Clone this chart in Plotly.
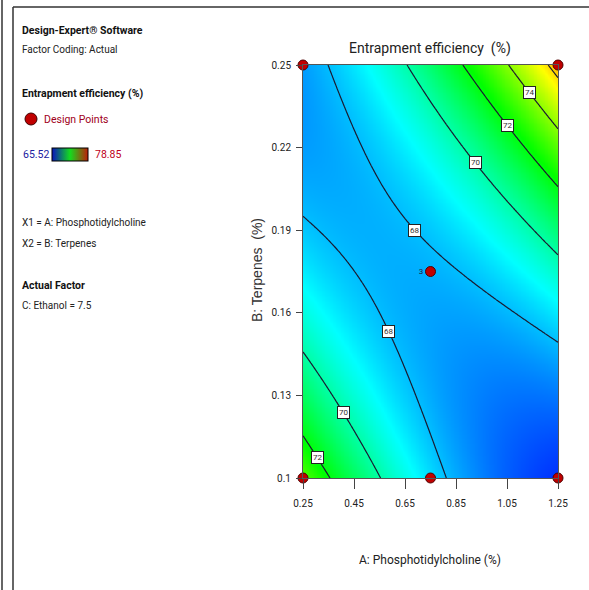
import numpy as np
import plotly.graph_objects as go

# ---- Data -------------------------------------------------------------
# Factor ranges (actual units)
A_range = [0.25, 1.25]      # A: Phosphotidylcholine (%)
B_range = [0.10, 0.25]      # B: Terpenes (%)
ethanol_level = 7.5         # C: Ethanol held at its centre level

# Quadratic model for entrapment efficiency in coded factors (C = 0)
model_terms = ["Intercept", "A", "B", "AB", "A^2", "B^2"]
model_coefs = [67.83, 0.47, 1.18, 4.01, 1.27, 1.77]

# Response range used for the colour scale
resp_min, resp_max = 65.52, 78.85

# Contour levels that are drawn and labelled
contour_levels = [68, 70, 72, 74, 76]

# Design points (runs) in this slice
design_A = [0.25, 1.25, 0.75, 0.25, 0.75, 1.25]
design_B = [0.25, 0.25, 0.175, 0.10, 0.10, 0.10]
design_reps = [1, 1, 3, 1, 1, 1]

# Tick labels
x_ticks = [0.25, 0.45, 0.65, 0.85, 1.05, 1.25]
x_ticktext = ["0.25", "0.45", "0.65", "0.85", "1.05", "1.25"]
y_ticks = [0.10, 0.13, 0.16, 0.19, 0.22, 0.25]
y_ticktext = ["0.1", "0.13", "0.16", "0.19", "0.22", "0.25"]

# ---- Layout helpers (pixel geometry of the 589 x 590 page) -------------
W, H = 589, 590
PX0, PX1 = 303, 558       # plot area left/right
PY0, PY1 = 65, 478        # plot area top/bottom


def px(x):
    return x / W


def py(y):
    return 1 - y / H


def to_coded(A, B):
    a = (np.asarray(A) - 0.75) / 0.5
    b = (np.asarray(B) - 0.175) / 0.075
    return a, b


def response(A, B):
    c0, c1, c2, c12, c11, c22 = model_coefs
    a, b = to_coded(A, B)
    return c0 + c1 * a + c2 * b + c12 * a * b + c11 * a ** 2 + c22 * b ** 2


def level_B_at(A, level, branch):
    """B value where the model equals `level` at a given A (upper/lower root)."""
    c0, c1, c2, c12, c11, c22 = model_coefs
    a = (A - 0.75) / 0.5
    qa = c22
    qb = c2 + c12 * a
    qc = c0 + c1 * a + c11 * a ** 2 - level
    disc = np.sqrt(qb ** 2 - 4 * qa * qc)
    b = (-qb + branch * disc) / (2 * qa)
    return 0.175 + 0.075 * b


# Evaluate the fitted surface on a grid
A_vals = np.linspace(A_range[0], A_range[1], 161)
B_vals = np.linspace(B_range[0], B_range[1], 161)
AA, BB = np.meshgrid(A_vals, B_vals)
Z = response(AA, BB)

colorscale = [
    [0.00, "rgb(0,0,255)"],
    [0.25, "rgb(0,255,255)"],
    [0.50, "rgb(0,255,0)"],
    [0.75, "rgb(255,255,0)"],
    [1.00, "rgb(255,0,0)"],
]
# Simplified blue-green-red ramp used by the side-panel key
key_colorscale = [
    [0.00, "rgb(10,20,190)"],
    [0.50, "rgb(20,220,30)"],
    [1.00, "rgb(190,30,10)"],
]

FONT = "Roboto, Liberation Sans, sans-serif"
SANS = "Liberation Sans, Arial, sans-serif"

fig = go.Figure()

fig.add_trace(go.Contour(
    x=A_vals, y=B_vals, z=Z,
    colorscale=colorscale, zmin=resp_min, zmax=resp_max,
    autocontour=False,
    contours=dict(start=min(contour_levels), end=max(contour_levels),
                  size=2, coloring="heatmap", showlabels=False),
    line=dict(color="#1a1a30", width=1.2),
    hoverinfo="skip",
    showscale=False,
))

# Continuous colour key for the side panel
fig.add_trace(go.Scatter(
    x=[A_range[0], A_range[0]], y=[B_range[0], B_range[0]], mode="markers",
    marker=dict(size=1, opacity=0, color=[resp_min, resp_max],
                cmin=resp_min, cmax=resp_max, colorscale=key_colorscale,
                showscale=True,
                colorbar=dict(orientation="h", x=px(70), xanchor="center",
                              y=py(155), yanchor="middle",
                              len=36, lenmode="pixels", thickness=13,
                              thicknessmode="pixels", showticklabels=False,
                              ticks="", outlinecolor="#000", outlinewidth=1,
                              xpad=0, ypad=0)),
    hoverinfo="skip", showlegend=False,
))

fig.add_trace(go.Scatter(
    x=design_A, y=design_B, mode="markers+text",
    marker=dict(size=10, color="#c00000", line=dict(color="#500000", width=1)),
    text=[str(r) if r > 1 else "" for r in design_reps],
    textposition="middle left",
    textfont=dict(size=8, color="#222244", family=FONT),
    cliponaxis=False, hoverinfo="skip", showlegend=False,
))

annotations = []

# Boxed contour labels, placed on the model's own iso-lines
label_spots = [  # (level, A position, root branch)
    (74, 1.138, 1), (72, 1.05, 1), (70, 0.925, 1), (68, 0.689, 1),
    (68, 0.587, -1), (70, 0.407, -1), (72, 0.305, -1),
]
for lvl, a_pos, br in label_spots:
    annotations.append(dict(
        x=a_pos, y=level_B_at(a_pos, lvl, br), xref="x", yref="y",
        text=str(lvl), showarrow=False,
        font=dict(size=8, color="#333", family=FONT),
        bgcolor="white", bordercolor="#222", borderwidth=1, borderpad=1,
    ))

# Chart title and axis titles
annotations.append(dict(x=px(430), y=py(48), xref="paper", yref="paper",
                        text="Entrapment efficiency  (%)", showarrow=False,
                        font=dict(size=14, color="#222", family=FONT),
                        xanchor="center", yanchor="middle"))
annotations.append(dict(x=px(430), y=py(560), xref="paper", yref="paper",
                        text="A: Phosphotidylcholine (%)", showarrow=False,
                        font=dict(size=12, color="#222", family=FONT),
                        xanchor="center", yanchor="middle"))
annotations.append(dict(x=px(257), y=py(270), xref="paper", yref="paper",
                        text="B: Terpenes  (%)", showarrow=False,
                        textangle=-90,
                        font=dict(size=14, color="#333", family=SANS),
                        xanchor="center", yanchor="middle"))

# Side panel text
side_text = [
    (31, "<b>Design-Expert® Software</b>", 10.5, "#111", 20),
    (49, "Factor Coding: Actual", 10, "#222", 20),
    (94, "<b>Entrapment efficiency (%)</b>", 10.5, "#111", 20),
    (119, "Design Points", 10.5, "#a00020", 42),
    (155, f"{resp_min:.2f}", 10.5, "#2020a0", 21),
    (155, f"{resp_max:.2f}", 10.5, "#c00020", 93),
    (222, "X1 = A: Phosphotidylcholine", 10, "#222", 20),
    (243, "X2 = B: Terpenes", 10, "#222", 20),
    (285, "<b>Actual Factor</b>", 10.5, "#111", 20),
    (305, f"C: Ethanol = {ethanol_level}", 10, "#222", 20),
]
for ypix, txt, size, col, xpix in side_text:
    annotations.append(dict(x=px(xpix), y=py(ypix), xref="paper", yref="paper",
                            text=txt, showarrow=False, xanchor="left",
                            yanchor="middle",
                            font=dict(size=size, color=col, family=FONT)))

shapes = [
    # panel frame
    dict(type="line", xref="paper", yref="paper", x0=px(2), x1=px(2),
         y0=0, y1=1, line=dict(color="#333", width=1.5)),
    dict(type="line", xref="paper", yref="paper", x0=px(13), x1=px(13),
         y0=0, y1=py(7), line=dict(color="#333", width=1.5)),
    dict(type="line", xref="paper", yref="paper", x0=px(13), x1=1,
         y0=py(7), y1=py(7), line=dict(color="#333", width=1.5)),
    # design-point symbol in the side panel
    dict(type="circle", xref="paper", yref="paper",
         x0=px(25), x1=px(37), y0=py(125), y1=py(113),
         fillcolor="#c00000", line=dict(color="#400000", width=1)),
]

axis_common = dict(showgrid=False, zeroline=False, showline=True,
                   linecolor="#555", linewidth=1, mirror=True,
                   ticks="outside", tickcolor="#444", automargin=False,
                   tickfont=dict(size=10, color="#222", family=FONT))

fig.update_layout(
    width=W, height=H,
    margin=dict(l=0, r=0, t=0, b=0),
    paper_bgcolor="white", plot_bgcolor="white",
    showlegend=False,
    xaxis=dict(domain=[px(PX0), px(PX1)], range=A_range,
               tickvals=x_ticks, ticktext=x_ticktext, ticklen=10,
               ticklabelstandoff=6, **axis_common),
    yaxis=dict(domain=[py(PY1), py(PY0)], range=B_range,
               tickvals=y_ticks, ticktext=y_ticktext, ticklen=6,
               ticklabelstandoff=3, **axis_common),
    annotations=annotations,
    shapes=shapes,
)

fig.write_html("out.html")
